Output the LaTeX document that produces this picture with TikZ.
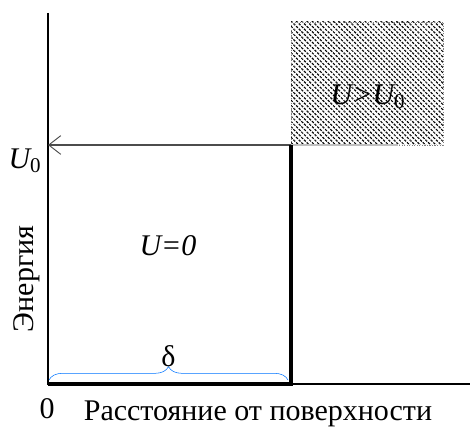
\documentclass[tikz,border=0pt]{standalone}
\usepackage{fontspec}
\setmainfont{Liberation Serif}
\usepackage{tikz}
\usetikzlibrary{arrows.meta,patterns.meta,decorations.pathreplacing}
\tikzset{
  axis/.style   = {line width=0.9pt, black},
  wall/.style   = {line width=3pt, black},
  level/.style  = {line width=0.9pt, black!70, {Straight Barb[length=9pt, width=14pt, line width=0.7pt]}-},
  barrier/.style = {pattern={Lines[angle=-45, distance=2.8pt, line width=0.9pt]},
                    draw=black!50, densely dotted, line width=0.6pt},
  lbl/.style    = {font=\fontsize{22.5}{27}\selectfont, inner sep=0pt},
  ilbl/.style   = {lbl, font=\fontsize{22.5}{27}\selectfont\itshape},
  brc/.style    = {decorate, decoration={brace, amplitude=10pt}, draw=blue!55!cyan, line width=0.4pt},
}
\begin{document}
\begin{tikzpicture}[x=0.75pt, y=0.75pt]
  \useasboundingbox (0,0) rectangle (470,427);
  % corners of the well
  \coordinate (O)   at (48,43);
  \coordinate (top) at (48,414);
  \coordinate (end) at (470,43);
  \coordinate (w)   at (291,43);
  \coordinate (wt)  at (291,282);
  \coordinate (u0)  at (48,282);
  % barrier region
  \draw[barrier] (291,282) rectangle (443,405);
  \node[ilbl] (big) at (368,330) {U>U\textsubscript{\upshape 0}};
  \draw[black!25, line width=0.8pt] (wt) -- (398,282);
  % axes
  \draw[axis] (top) -- (O) -- (end);
  \draw[level] (u0) -- (wt);
  \draw[wall] (O) -- (w) -- (wt);
  % labels
  \node[ilbl] (U0) at (25,266) {U\textsubscript{\upshape 0}};
  \node[ilbl] (zero) at (168,181) {U=0};
  \node[lbl, rotate=90] (en) at (27,148) {Энергия};
  \node[lbl] (o) at (47,18) {0};
  \node[lbl] (dist) at (258,13) {Расстояние от поверхности};
  % well width
  \coordinate (b1) at (49,47);
  \coordinate (b2) at (288,47);
  \draw[brc] (b1) -- (b2) node[midway, above=10pt, lbl, black] (d) {δ};
\end{tikzpicture}
\end{document}
